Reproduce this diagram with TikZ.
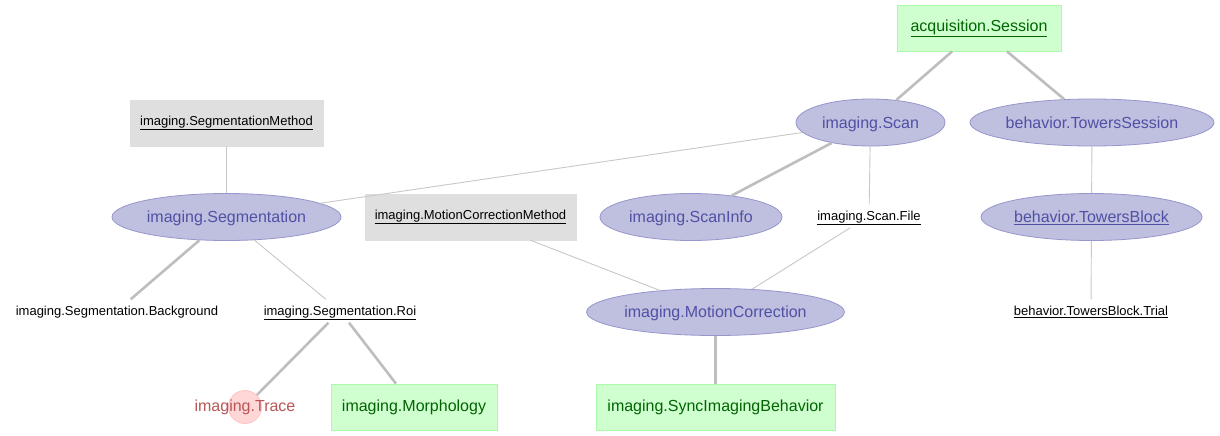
\documentclass[tikz,border=0pt]{standalone}
\usepackage{fontspec}
\setmainfont{Liberation Sans}
\usetikzlibrary{shapes.geometric}
\definecolor{impfill}{RGB}{191,191,223}
\definecolor{impdraw}{RGB}{150,150,204}
\definecolor{imptext}{RGB}{80,80,165}
\definecolor{manfill}{RGB}{207,255,207}
\definecolor{mandraw}{RGB}{170,250,170}
\definecolor{mantext}{RGB}{0,100,0}
\definecolor{lkfill}{RGB}{223,223,223}
\definecolor{cmpfill}{RGB}{255,215,215}
\definecolor{cmpdraw}{RGB}{255,195,195}
\definecolor{cmptext}{RGB}{185,85,85}
\definecolor{edgec}{RGB}{190,190,190}
\tikzset{
  big/.style={font=\fontsize{16}{19}\selectfont},
  small/.style={font=\fontsize{13}{16}\selectfont},
  imported/.style={ellipse, big, fill=impfill, draw=impdraw, line width=0.8pt, text=imptext, minimum height=47pt, inner sep=0pt, text height=13pt, text depth=2pt},
  manual/.style={rectangle, big, fill=manfill, draw=mandraw, line width=0.8pt, text=mantext, minimum height=46pt, inner sep=0pt},
  lookup/.style={rectangle, small, fill=lkfill, draw=lkfill, text=black, minimum height=46pt, inner sep=0pt},
  part/.style={small, text=black, inner sep=5pt, text height=11pt, text depth=2pt},
  prim/.style={draw=edgec, line width=2.6pt},
  sec/.style={draw=edgec!85, line width=0.9pt},
}
\begin{document}
\begin{tikzpicture}[x=1pt,y=-1pt]
\useasboundingbox[fill=white] (0,0) rectangle (1220,436);
% nodes
\node[manual, minimum width=164pt] (sess) at (979,28) {\underline{acquisition.Session}};
\node[imported, minimum width=149pt] (scan) at (870.5,122.5) {imaging.Scan};
\node[imported, minimum width=244pt] (tsess) at (1092,122.5) {behavior.TowersSession};
\node[lookup, minimum width=193pt] (segm) at (226.5,123) {\underline{imaging.SegmentationMethod}};
\node[imported, minimum width=229pt] (seg) at (226.5,217) {imaging.Segmentation};
\node[lookup, minimum width=211pt] (mcm) at (470.5,217) {\underline{imaging.MotionCorrectionMethod}};
\node[imported, minimum width=182pt] (sinfo) at (691,217) {imaging.ScanInfo};
\node[part] (sfile) at (869,216) {\underline{imaging.Scan.File}};
\node[imported, minimum width=221pt] (tblock) at (1091.5,217) {\underline{behavior.TowersBlock}};
\node[part] (bg) at (117,311) {imaging.Segmentation.Background};
\node[part] (roi) at (340,311) {\underline{imaging.Segmentation.Roi}};
\node[imported, minimum width=255pt] (mc) at (715.5,312) {imaging.MotionCorrection};
\node[part] (trial) at (1091,311) {\underline{behavior.TowersBlock.Trial}};
\node[circle, fill=cmpfill, draw=cmpdraw, line width=0.8pt, minimum size=33pt, inner sep=0pt] (tracec) at (245,407) {};
\node[big, text=cmptext, inner sep=0pt] (trace) at (245,407.5) {imaging.Trace};
\node[manual, minimum width=166pt] (morph) at (414,407) {imaging.Morphology};
\node[manual, minimum width=239pt] (sync) at (715.5,407) {imaging.SyncImagingBehavior};
% edges
\draw[prim] (sess) -- (scan);
\draw[prim] (sess) -- (tsess);
\draw[sec] (scan) -- (seg);
\draw[prim] (scan) -- (sinfo);
\draw[sec] (scan) -- (sfile);
\draw[sec] (tsess) -- (tblock);
\draw[sec] (tblock) -- (trial);
\draw[sec] (segm) -- (seg);
\draw[prim] (seg) -- (bg);
\draw[sec] (seg) -- (roi);
\draw[sec] (mcm) -- (mc);
\draw[sec] (sfile) -- (mc);
\draw[prim] (roi) -- (tracec);
\draw[prim] (roi) -- (morph);
\draw[prim] (mc) -- (sync);
\end{tikzpicture}
\end{document}
